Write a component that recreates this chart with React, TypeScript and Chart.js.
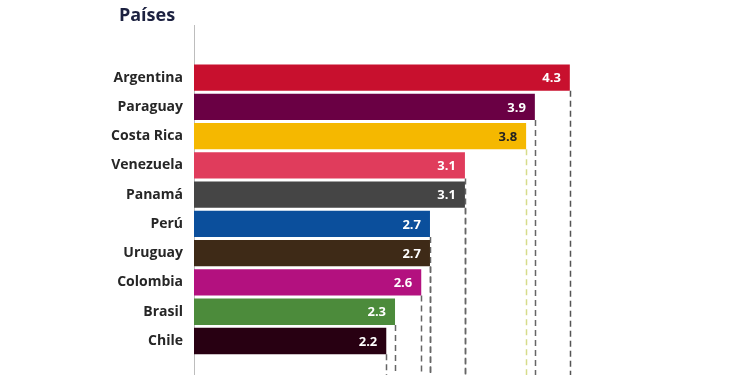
import React, { useEffect, useRef } from "react";
import { Chart, registerables } from "chart.js";

Chart.register(...registerables);

const countries = ["Argentina", "Paraguay", "Costa Rica", "Venezuela", "Panamá", "Perú", "Uruguay", "Colombia", "Brasil", "Chile"];
const values = [4.3, 3.9, 3.8, 3.1, 3.1, 2.7, 2.7, 2.6, 2.3, 2.2];
const barColors = ["#c8102e", "#6a0044", "#f5b800", "#e03c5c", "#454545", "#0b4f9c", "#3e2a17", "#b3117f", "#4c8b3b", "#280012"];
const labelColors = ["#ffffff", "#ffffff", "#222222", "#ffffff", "#ffffff", "#ffffff", "#ffffff", "#ffffff", "#ffffff", "#ffffff"];
const dashColors = ["#555555", "#666666", "#d6dc8a", "#666666", "#666666", "#666666", "#666666", "#666666", "#666666", "#666666"];
const title = "Países";

const FONT = "'Open Sans', 'DejaVu Sans', sans-serif";

const overlay = {
  id: "overlay",
  beforeDatasetsDraw(chart: any) {
    const ctx = chart.ctx;
    const meta = chart.getDatasetMeta(0);
    const xScale = chart.scales.x;
    ctx.save();
    ctx.strokeStyle = "#bdbdbd";
    ctx.lineWidth = 1;
    ctx.beginPath();
    ctx.moveTo(xScale.left + 0.5, 25);
    ctx.lineTo(xScale.left + 0.5, chart.height);
    ctx.stroke();
    ctx.lineWidth = 1.5;
    ctx.setLineDash([6, 4]);
    meta.data.forEach((bar: any, i: number) => {
      const x = Math.round(bar.x) + 0.5;
      ctx.strokeStyle = dashColors[i];
      ctx.beginPath();
      ctx.moveTo(x, bar.y + bar.height / 2);
      ctx.lineTo(x, chart.height);
      ctx.stroke();
    });
    ctx.restore();
  },
  afterDatasetsDraw(chart: any) {
    const ctx = chart.ctx;
    const meta = chart.getDatasetMeta(0);
    ctx.save();
    ctx.font = `bold 13px ${FONT}`;
    ctx.textAlign = "right";
    ctx.textBaseline = "middle";
    meta.data.forEach((bar: any, i: number) => {
      ctx.fillStyle = labelColors[i];
      ctx.fillText(String(values[i]), bar.x - 9, bar.y + 1);
    });
    ctx.font = `bold 18px ${FONT}`;
    ctx.fillStyle = "#1c2140";
    ctx.textAlign = "center";
    ctx.fillText(title, 147, 16);
    ctx.restore();
  },
};

export default function App() {
  const ref = useRef<HTMLCanvasElement>(null);
  useEffect(() => {
    document.body.style.margin = "0";
    const chart = new Chart(ref.current!, {
      type: "bar",
      data: {
        labels: countries,
        datasets: [
          {
            data: values,
            backgroundColor: barColors,
            borderWidth: 0,
            barPercentage: 0.9,
            categoryPercentage: 1,
          },
        ],
      },
      options: {
        indexAxis: "y",
        animation: false,
        responsive: false,
        layout: { padding: { top: 63, bottom: 17, right: 119, left: 0 } },
        plugins: { legend: { display: false }, tooltip: { enabled: false } },
        scales: {
          x: { display: false, min: 0, max: 5 },
          y: {
            grid: { display: false, drawTicks: false },
            border: { display: false },
            afterFit: (scale: any) => {
              scale.width = 194;
            },
            ticks: {
              padding: 11,
              color: "#262626",
              font: { family: FONT, size: 14, weight: "bold" },
            },
          },
        },
      },
      plugins: [overlay],
    });
    return () => chart.destroy();
  }, []);
  return (
    <div style={{ width: 750, height: 375, background: "#ffffff" }}>
      <canvas ref={ref} width={750} height={375} />
    </div>
  );
}
